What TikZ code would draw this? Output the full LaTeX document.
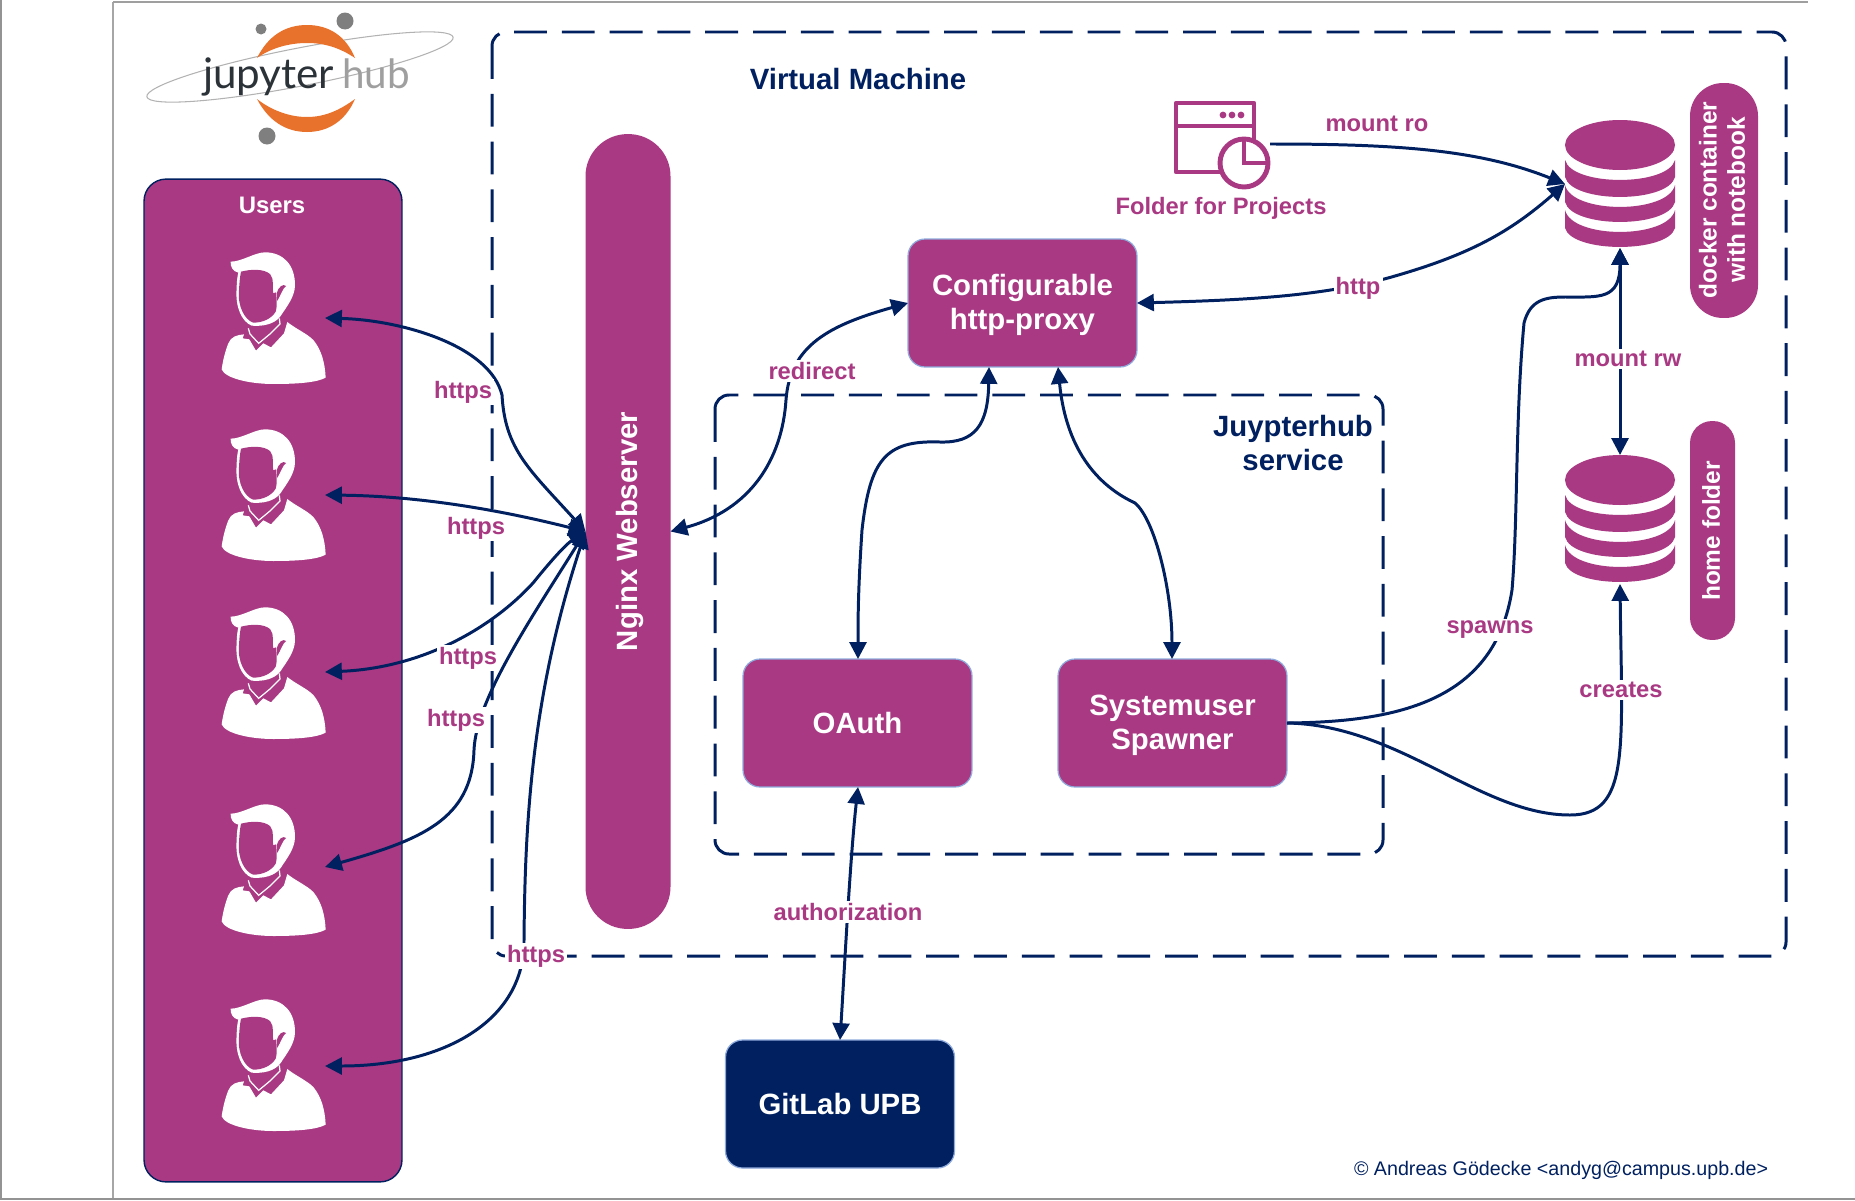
\documentclass[tikz,border=0pt]{standalone}
\usepackage{fontspec}
\setmainfont{Liberation Sans}
\newfontfamily\logofont{Lato}
\usetikzlibrary{arrows.meta}
\definecolor{plum}{HTML}{A93983}
\definecolor{navy}{HTML}{002060}
\definecolor{edgeblue}{HTML}{8FAADC}
\definecolor{orangelogo}{HTML}{E8722C}
\definecolor{graylogo}{HTML}{7F7F7F}
\definecolor{textlogo}{HTML}{2B3238}
\newcommand{\bigfont}{\fontsize{16.7}{19.4}\selectfont\bfseries}
\newcommand{\midfont}{\fontsize{13.5}{15.8}\selectfont\bfseries}
\newcommand{\firstline}{\rule{0pt}{14.5pt}}
\newcommand{\dbicon}[1]{%
  \begin{scope}[yshift=#1*-0.02cm]
    \fill[plum] (1620,145) ellipse [x radius=55,y radius=25];
    \foreach \a/\b/\c/\d in {160/180/197/177,185/207/222/202,210/232/247/228}{
      \pgfmathsetmacro{\ta}{\a+1.33*(\b-\a)}
      \pgfmathsetmacro{\tb}{\d+1.33*(\c-\d)}
      \fill[plum] (1565,\a) .. controls (1572,\ta) and (1668,\ta) .. (1675,\a)
        -- (1675,\d) .. controls (1668,\tb) and (1572,\tb) .. (1565,\d) -- cycle;
    }
  \end{scope}}
\newcommand{\personicon}[1]{%
  \begin{scope}[shift={(100,#1)},scale=1/3]
    % body
    \fill[white] (432,1003) .. controls (410,1005) and (393,1010) .. (385,1030)
      .. controls (375,1055) and (368,1085) .. (365,1108)
      .. controls (375,1135) and (450,1152) .. (520,1152)
      .. controls (590,1152) and (650,1148) .. (677,1133)
      .. controls (675,1090) and (665,1050) .. (640,1020)
      .. controls (620,1000) and (585,985) .. (562,966)
      -- (552,1000) -- (513,1042) -- (490,1030) -- (468,1052) -- (448,1018) -- (428,1015) -- cycle;
    % collar line
    \draw[white,line width=0.7pt] (445,985) -- (450,1002) -- (476,1030) -- (510,1002) -- (540,972) -- (538,955);
    % head
    \fill[white] (392,785) .. controls (425,785) and (465,757) .. (495,757)
      .. controls (550,757) and (585,795) .. (585,855)
      .. controls (585,890) and (560,920) .. (542,948)
      .. controls (525,972) and (490,980) .. (455,977)
      .. controls (425,965) and (405,920) .. (410,865)
      .. controls (410,845) and (412,830) .. (415,818)
      .. controls (400,815) and (390,800) .. (392,785) -- cycle;
    % face
    \fill[plum] (423,815) .. controls (450,808) and (490,805) .. (510,822)
      .. controls (525,838) and (515,865) .. (520,880)
      -- (528,877) .. controls (530,890) and (532,920) .. (527,935)
      .. controls (515,955) and (490,968) .. (460,968)
      .. controls (435,960) and (412,920) .. (417,870)
      .. controls (418,850) and (420,830) .. (423,815) -- cycle;
    % ear
    \fill[plum] (530,880) .. controls (535,860) and (550,850) .. (558,858)
      .. controls (550,862) and (542,885) .. (532,903) -- cycle;
  \end{scope}}
\tikzset{
  boxnode/.style={draw=edgeblue,line width=0.7pt,fill=plum,text=white,font=\bigfont,align=center,
    rounded corners=0.34cm,minimum width=4.58cm,minimum height=2.56cm,outer sep=0pt},
  pill/.style={fill=plum,text=white,align=center,outer sep=0pt},
  frame/.style={draw=navy,line width=1.7pt,dash pattern=on 18.7pt off 8.5pt,rounded corners=0.28cm},
  lbl/.style={fill=white,text=plum,font=\midfont,inner sep=1.2pt,outer sep=0pt},
  conn/.style={draw=navy,line width=1.7pt},
  tipend/.style={-{Triangle[length=9.6pt,width=9.6pt]}},
  tipboth/.style={{Triangle[length=9.6pt,width=9.6pt]}-{Triangle[length=9.6pt,width=9.6pt]}},
  ghost/.style={inner sep=0pt,outer sep=0pt}
}
\begin{document}
\begin{tikzpicture}[x=0.02cm,y=-0.02cm]
\useasboundingbox (0,0) rectangle (1855,1200);
% page lines
\draw[gray!85,line width=0.9pt] (1,1200) -- (1,0);
\draw[gray!70,line width=0.9pt] (113,1200) -- (113,2);
\draw[gray!75,line width=0.9pt] (113,2) -- (1808,2);
\draw[gray!85,line width=0.9pt] (0,1199) -- (1855,1199);
% logo
\draw[gray!60,line width=0.6pt,rotate around={11:(300,67)}] (300,67) ellipse [x radius=156,y radius=19];
\fill[orangelogo] (257,58) .. controls (268,36) and (285,25) .. (307,25)
  .. controls (329,25) and (346,36) .. (355,58)
  .. controls (340,48) and (325,43) .. (307,43)
  .. controls (289,43) and (271,48) .. (257,58) -- cycle;
\fill[orangelogo] (257,99) .. controls (268,120) and (285,132) .. (307,132)
  .. controls (329,132) and (346,120) .. (355,99)
  .. controls (340,110) and (325,117) .. (307,117)
  .. controls (289,117) and (271,110) .. (257,99) -- cycle;
\fill[graylogo] (345,21) circle [radius=8.5];
\fill[graylogo] (261,29) circle [radius=5.5];
\fill[graylogo] (267,136) circle [radius=8.5];
\node[ghost,anchor=base west,text=textlogo,font=\logofont\fontsize{24}{27}\selectfont] (logojup) at (203,88) {jupyter};
\node[ghost,anchor=base west,text=gray!75,font=\logofont\fontsize{23}{27}\selectfont] (logohub) at (342,88) {hub};
% frames
\draw[frame] (492,32) rectangle (1786,956);
\draw[frame] (715,395) rectangle (1383,854);
\node[ghost,text=navy,font=\bigfont] (vmtitle) at (858,79) {Virtual Machine};
\node[ghost,text=navy,font=\bigfont,align=center,anchor=center] (svctitle) at (1293,443) {Juypterhub\\service};
% users
\node[draw=navy,line width=0.8pt,fill=plum,rounded corners=0.44cm,minimum width=5.16cm,minimum height=20.06cm,outer sep=0pt] (users) at (273,680.5) {};
\node[ghost,text=white,font=\fontsize{13.6}{16}\selectfont\bfseries] (userstitle) at (272,205) {Users};
\personicon{0}
\personicon{177}
\personicon{355}
\personicon{552}
\personicon{747}
\coordinate (u1) at (325,318);
\coordinate (u2) at (325,495);
\coordinate (u3) at (325,672);
\coordinate (u4) at (325,867);
\coordinate (u5) at (325,1066);
% nginx
\node[pill,rounded corners=0.84cm,minimum width=1.7cm,minimum height=15.9cm] (nginx) at (628,531.5) {};
\node[ghost,rotate=90,text=white,font=\bigfont] (nginxlabel) at (630,531.5) {Nginx Webserver};
% boxes
\node[boxnode] (proxy) at (1022.5,303) {\firstline Configurable\\http-proxy};
\node[boxnode] (oauth) at (857.5,723) {OAuth};
\node[boxnode] (spawner) at (1172.5,723) {\firstline Systemuser\\Spawner};
\node[boxnode,fill=navy] (gitlab) at (840,1104) {GitLab UPB};
% pills
\node[pill,rounded corners=0.66cm,minimum width=1.36cm,minimum height=4.7cm] (dockerpill) at (1724,200.5) {};
\node[ghost,rotate=90,text=white,font=\fontsize{13.9}{16.2}\selectfont\bfseries,align=center] (dockertext) at (1722,200) {docker container\\with notebook};
\node[pill,rounded corners=0.44cm,minimum width=0.9cm,minimum height=4.38cm] (homepill) at (1712.5,530.5) {};
\node[ghost,rotate=90,text=white,font=\fontsize{13.9}{16.2}\selectfont\bfseries] (hometext) at (1711,531) {home folder};
% cylinders
\dbicon{0}
\dbicon{335}
\node[ghost,minimum width=2.2cm,minimum height=2.56cm] (dbtop) at (1620,184) {};
\node[ghost,minimum width=2.2cm,minimum height=2.58cm] (dbhome) at (1620,519.5) {};
% folder icon
\node[ghost,minimum width=1.92cm,minimum height=1.76cm] (folder) at (1222,144) {};
\draw[plum,line width=2.4pt,line join=round] (1176,103) rectangle (1254,172);
\draw[plum,line width=2.4pt] (1176,126) -- (1254,126);
\fill[plum] (1223,115) circle [radius=3.4] (1232,115) circle [radius=3.4] (1241,115) circle [radius=3.4];
\draw[plum,line width=2.8pt,fill=white] (1244,163) circle [radius=24];
\draw[plum,line width=2.4pt] (1244,139) -- (1244,163) -- (1268,163);
\node[ghost,text=plum,font=\midfont] (foldertext) at (1221,208) {Folder for Projects};
% connectors
\draw[conn,tipend] (folder.east) .. controls (1400,144) and (1480,150) .. (dbtop.west);
\draw[conn,tipboth] (proxy.east) .. controls (1250,300) and (1320,296) .. (1388,278)
  .. controls (1470,255) and (1510,232) .. (dbtop.west);
\draw[conn,tipboth] (dbtop.south) -- (dbhome.north);
\draw[conn,tipend] (spawner.east) .. controls (1400,722) and (1495,700) .. (1512,590)
  .. controls (1518,520) and (1515,420) .. (1524,323)
  .. controls (1530,300) and (1545,297) .. (1565,297)
  .. controls (1600,297) and (1620,300) .. (dbtop.south);
\draw[conn,tipend] (spawner.east) .. controls (1400,725) and (1480,815) .. (1570,815)
  .. controls (1630,815) and (1622,750) .. (dbhome.south);
\draw[conn,tipboth] (proxy.west) .. controls (830,325) and (790,345) .. (786,400)
  .. controls (782,460) and (750,510) .. (nginx.east);
\draw[conn,tipboth] (989,367) .. controls (988,425) and (975,443) .. (940,442)
  .. controls (885,440) and (870,460) .. (862,530)
  .. controls (858,590) and (858,620) .. (858,659);
\draw[conn,tipboth] (1058,367) .. controls (1065,440) and (1090,482) .. (1135,503)
  .. controls (1155,520) and (1172,590) .. (1172,659);
\draw[conn,tipboth] (858,787) .. controls (850,860) and (845,960) .. (840,1040);
\draw[conn,tipboth] (u1) .. controls (400,320) and (490,345) .. (502,395)
  .. controls (505,450) and (530,470) .. (nginx.west);
\draw[conn,tipboth] (u2) .. controls (420,496) and (500,510) .. (nginx.west);
\draw[conn,tipboth] (u3) .. controls (420,668) and (490,630) .. (533,583)
  .. controls (550,562) and (565,545) .. (nginx.west);
\draw[conn,tipboth] (u4) .. controls (420,840) and (472,820) .. (474,750)
  .. controls (476,700) and (530,620) .. (nginx.west);
\draw[conn,tipboth] (u5) .. controls (445,1066) and (525,1020) .. (524,940)
  .. controls (525,830) and (530,700) .. (nginx.west);
% labels
\node[lbl] (lmountro) at (1377,124) {mount ro};
\node[lbl] (lhttp) at (1358,288) {http};
\node[lbl] (lmountrw) at (1628,359) {mount rw};
\node[lbl] (lspawns) at (1490,630) {spawns};
\node[lbl] (lcreates) at (1621,690) {creates};
\node[lbl] (lredirect) at (812,371) {redirect};
\node[lbl] (lauth) at (848,912) {authorization};
\node[lbl] (lhttps1) at (463,392) {https};
\node[lbl] (lhttps2) at (476,528) {https};
\node[lbl] (lhttps3) at (468,658) {https};
\node[lbl] (lhttps4) at (456,720) {https};
\node[lbl] (lhttps5) at (536,956) {https};
\node[ghost,anchor=west,text=navy,font=\fontsize{11.2}{13}\selectfont] (copyright) at (1354,1170) {© Andreas Gödecke <andyg@campus.upb.de>};
\end{tikzpicture}
\end{document}
